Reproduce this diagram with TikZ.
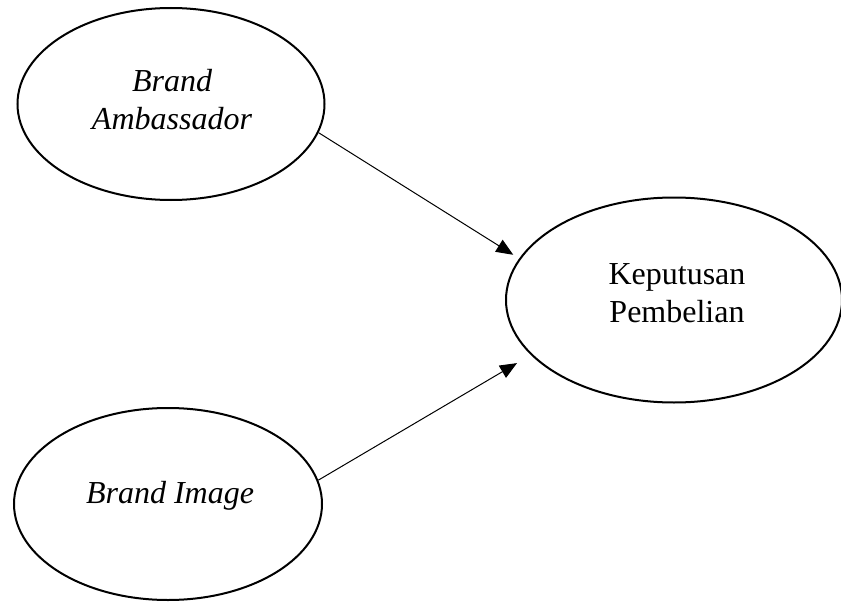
\documentclass[tikz,border=0pt]{standalone}
\usepackage{fontspec}
\setmainfont{Liberation Serif}
\usetikzlibrary{shapes.geometric,arrows.meta}
\begin{document}
\begin{tikzpicture}[x=1pt,y=-1pt,
  var/.style={draw, ellipse, line width=2pt, inner sep=0pt},
  lbl/.style={font=\fontsize{32}{38}\selectfont, align=center},
  conn/.style={line width=1pt, -{Triangle[length=17pt,width=14pt]}}]
\useasboundingbox (0,0) rectangle (841,602);
\node[var, minimum width=307pt, minimum height=192pt] (ba) at (171,104) {};
\node[lbl] (bat) at (172,100) {\itshape Brand\\\itshape Ambassador};
\node[var, minimum width=336pt, minimum height=205pt] (kp) at (674,300) {};
\node[lbl] (kpt) at (677,293) {Keputusan\\Pembelian};
\node[var, minimum width=308pt, minimum height=192pt] (bi) at (168,504) {};
\node[lbl] (bit) at (170,496) {\itshape Brand Image};
\draw[conn, shorten >=7pt] (ba.-11) -- (kp.165);
\draw[conn, shorten >=16pt] (bi.9) -- (kp.201);
\end{tikzpicture}
\end{document}
